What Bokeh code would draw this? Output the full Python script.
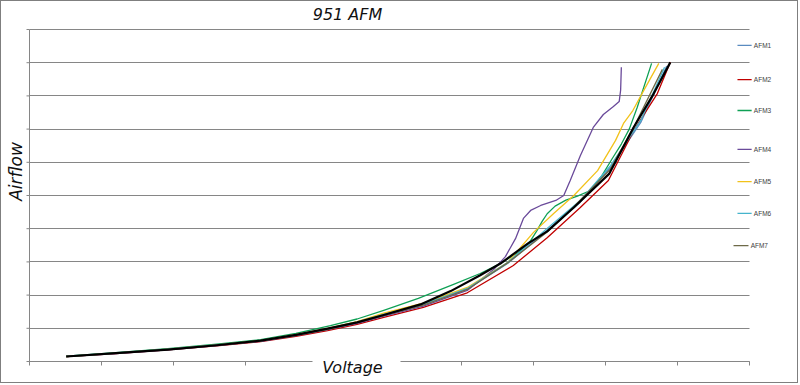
import math
from bokeh.plotting import figure
from bokeh.models import FixedTicker, Range1d
from bokeh.core.properties import value
from bokeh.embed import file_html
from bokeh.resources import INLINE

# ---------------- data (Voltage / Airflow in grid units) ----------------
series_names = ["AFM1", "AFM2", "AFM3", "AFM4", "AFM5", "AFM6", "AFM7"]

afm1_v = [0.51, 1.2, 1.92, 2.6, 3.21, 3.7, 4.14, 4.55, 4.92, 5.47, 6.08, 6.64, 7.19, 7.65, 8.07, 8.49, 8.85]
afm1_a = [0.16, 0.26, 0.37, 0.50, 0.63, 0.81, 0.99, 1.19, 1.43, 1.74, 2.18, 2.95, 3.95, 4.80, 5.85, 7.20, 8.90]

afm2_v = [0.51, 1.2, 1.92, 2.6, 3.21, 3.7, 4.14, 4.55, 4.92, 5.47, 6.08, 6.72, 7.19, 7.65, 8.04, 8.39, 8.72, 8.90]
afm2_a = [0.15, 0.24, 0.35, 0.47, 0.60, 0.76, 0.93, 1.12, 1.33, 1.63, 2.07, 2.89, 3.73, 4.64, 5.45, 6.95, 8.07, 9.01]

afm3_v = [0.51, 1.2, 1.92, 2.6, 3.21, 3.7, 4.18, 4.55, 4.92, 5.40, 5.89, 6.26, 6.54, 6.80, 6.96, 7.05, 7.12, 7.19, 7.30, 7.45, 7.61, 7.79, 7.95, 8.09, 8.22, 8.33, 8.44, 8.64]
afm3_a = [0.16, 0.27, 0.39, 0.52, 0.66, 0.85, 1.08, 1.28, 1.54, 1.90, 2.32, 2.65, 2.95, 3.30, 3.64, 3.95, 4.22, 4.45, 4.68, 4.86, 4.98, 5.15, 5.60, 6.10, 6.55, 7.00, 7.65, 8.98]

afm4_v = [0.51, 1.2, 1.92, 2.6, 3.21, 3.7, 4.14, 4.55, 4.92, 5.47, 6.08, 6.45, 6.61, 6.75, 6.86, 6.96, 7.10, 7.31, 7.42, 7.51, 7.65, 7.83, 7.97, 8.11, 8.19, 8.21, 8.22]
afm4_a = [0.15, 0.24, 0.35, 0.48, 0.61, 0.78, 0.96, 1.15, 1.37, 1.67, 2.14, 2.78, 3.16, 3.70, 4.31, 4.55, 4.70, 4.85, 5.00, 5.45, 6.20, 7.05, 7.44, 7.68, 7.83, 8.17, 8.86]

afm5_v = [0.51, 1.2, 1.92, 2.6, 3.21, 3.7, 4.14, 4.55, 4.92, 5.47, 6.08, 6.64, 7.00, 7.28, 7.56, 7.89, 8.14, 8.25, 8.38, 8.53, 8.74]
afm5_a = [0.15, 0.25, 0.37, 0.50, 0.63, 0.81, 1.00, 1.20, 1.46, 1.76, 2.23, 2.98, 3.89, 4.46, 5.00, 5.75, 6.66, 7.17, 7.56, 8.16, 8.98]

afm6_v = [0.51, 1.2, 1.92, 2.6, 3.21, 3.7, 4.14, 4.55, 4.92, 5.47, 6.08, 6.64, 7.19, 7.65, 8.07, 8.49, 8.82]
afm6_a = [0.15, 0.25, 0.37, 0.50, 0.62, 0.80, 0.98, 1.18, 1.42, 1.72, 2.20, 2.98, 4.01, 4.85, 5.90, 7.26, 8.86]

afm7_v = [0.51, 1.2, 1.92, 2.6, 3.21, 3.7, 4.14, 4.55, 4.92, 5.47, 6.08, 6.64, 7.19, 7.56, 8.07, 8.39, 8.79]
afm7_a = [0.15, 0.25, 0.36, 0.49, 0.62, 0.79, 0.97, 1.17, 1.39, 1.70, 2.17, 2.97, 3.90, 4.66, 5.80, 7.05, 8.80]

avg_v = [0.51, 1.2, 1.92, 2.6, 3.21, 3.7, 4.14, 4.55, 4.92, 5.43, 5.85, 6.26, 6.54, 6.92, 7.19, 7.56, 8.05, 8.39, 8.67, 8.90]
avg_a = [0.15, 0.25, 0.36, 0.49, 0.63, 0.80, 0.99, 1.18, 1.40, 1.72, 2.12, 2.60, 2.95, 3.55, 3.92, 4.64, 5.65, 7.05, 8.07, 9.01]

x_ticks = list(range(0, 11))
y_ticks = list(range(0, 11))
title_text = "951 AFM"
x_title = "Voltage"
y_title = "Airflow"

# ---------------- styling / layout ----------------
series_colors = ["#5A8BC0", "#C00000", "#0FA055", "#6A4A9A", "#F2C21A", "#45B4CC", "#6E6A48"]
grid_color = "#868686"
font = "DejaVu Sans"
PX_X = 72.0    # pixels per x unit
PX_Y = 33.2    # pixels per y unit
W, H = 798, 383
X0, Y0 = 28, 360   # canvas position of (0, 0)

p = figure(width=W, height=H,
           x_range=Range1d(-X0 / PX_X, (W - X0) / PX_X),
           y_range=Range1d(-(H - Y0) / PX_Y, Y0 / PX_Y),
           output_backend="svg", toolbar_location=None, title=None,
           min_border=0, min_border_left=0, min_border_right=0,
           min_border_top=0, min_border_bottom=0)
p.styles = {"border": "1px solid #7f7f7f"}
p.outline_line_color = None
p.background_fill_color = "white"
p.border_fill_color = "white"
p.xaxis.visible = False
p.yaxis.visible = False

p.xgrid.visible = False
p.ygrid.ticker = FixedTicker(ticks=y_ticks)
p.ygrid.grid_line_color = grid_color
p.ygrid.grid_line_width = 1
p.ygrid.cross_bounds = (x_ticks[0], x_ticks[-1])

# axis lines and tick marks
p.segment(x0=[x_ticks[0], x_ticks[0]], y0=[y_ticks[0], y_ticks[0]],
          x1=[x_ticks[-1], x_ticks[0]], y1=[y_ticks[0], y_ticks[-1]],
          line_color=grid_color, line_width=1)
p.ray(x=x_ticks, y=[y_ticks[0]] * len(x_ticks), length=4, length_units="screen",
      angle=-math.pi / 2, line_color=grid_color, line_width=1)
p.ray(x=[x_ticks[0]] * len(y_ticks), y=y_ticks, length=3, length_units="screen",
      angle=math.pi, line_color=grid_color, line_width=1)

all_v = [afm1_v, afm2_v, afm3_v, afm4_v, afm5_v, afm6_v, afm7_v]
all_a = [afm1_a, afm2_a, afm3_a, afm4_a, afm5_a, afm6_a, afm7_a]
for v, a, c in zip(all_v, all_a, series_colors):
    p.line(v, a, line_color=c, line_width=1.3, line_join="round")
p.line(avg_v, avg_a, line_color="black", line_width=2.2, line_join="round")

# legend (manual, irregular spacing as in the picture)
leg_y = [9.52, 8.49, 7.56, 6.39, 5.42, 4.46, 3.49]
leg_x0 = [9.833] * 6 + [9.778]
leg_x1 = [10.03] * 6 + [9.986]
for i, c in enumerate(series_colors):
    p.line([leg_x0[i], leg_x1[i]], [leg_y[i], leg_y[i]], line_color=c, line_width=1.3)
p.text(x=[x + 0.03 for x in leg_x1], y=leg_y, text=series_names,
       text_font=value("Liberation Sans"), text_font_size=value("6.5px"),
       text_color="#404040", text_baseline="middle", text_align="left")

# white gap in the x axis under the "Voltage" caption
p.quad(left=[(312 - 29) / PX_X], right=[(400 - 29) / PX_X], bottom=[-0.25], top=[0.25],
       fill_color="white", line_color=None)

title_style = dict(text_font=value(font), text_font_style="italic", text_color="#111111",
                   text_align="center", text_baseline="middle")
p.text(x=[(347 - 29) / PX_X], y=[(361 - 14) / PX_Y], text=[title_text],
       text_font_size=value("16px"), **title_style)
p.text(x=[(352 - 29) / PX_X], y=[(361 - 367) / PX_Y], text=[x_title],
       text_font_size=value("16px"), **title_style)
p.text(x=[(15 - 29) / PX_X], y=[(361 - 171) / PX_Y], text=[y_title], angle=math.pi / 2,
       text_font_size=value("17px"), **title_style)

open("out.html", "w").write(file_html(p, INLINE))
